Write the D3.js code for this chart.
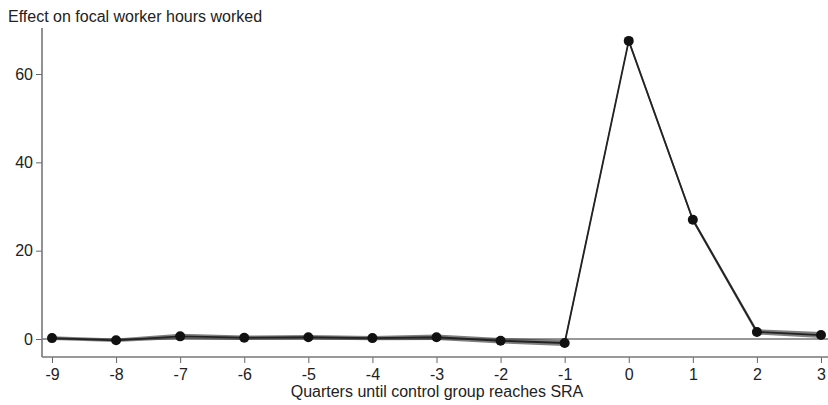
<!DOCTYPE html>
<html>
<head>
<meta charset="utf-8">
<script src="https://cdn.jsdelivr.net/npm/d3@7"></script>
<style>
  html, body { margin: 0; padding: 0; background: #fff; }
  svg { display: block; font-family: "Liberation Sans", Arial, sans-serif; }
</style>
</head>
<body>
<svg id="chart" width="828" height="405"></svg>
<script>
// Event-time coefficients: quarters relative to the control group reaching SRA
const quarters = [-9, -8, -7, -6, -5, -4, -3, -2, -1, 0, 1, 2, 3];
const estimate = [0.2, -0.3, 0.6, 0.3, 0.4, 0.2, 0.4, -0.4, -0.9, 67.5, 27.0, 1.6, 0.9];
const ciLower  = [-0.2, -0.7, 0.0, -0.2, -0.1, -0.3, -0.2, -1.0, -1.6, 67.0, 26.5, 1.0, 0.2];
const ciUpper  = [0.6, 0.1, 1.2, 0.8, 0.9, 0.7, 1.0, 0.2, -0.2, 68.0, 27.5, 2.2, 1.6];
const yTicks = [0, 20, 40, 60];

const svg = d3.select("#chart");
const margin = { left: 42, right: 0, top: 28, bottom: 48 };
const W = 828, H = 405;

const x = d3.scaleLinear().domain([-9, 3]).range([52, 821]);
const y = d3.scaleLinear().domain([0, 60]).range([339, 74]);

const rows = quarters.map((q, i) => ({ q, est: estimate[i], lo: ciLower[i], hi: ciUpper[i] }));
const fmt = d => String(d); // plain hyphen-minus for negatives

// confidence band
svg.append("path")
  .datum(rows)
  .attr("fill", "#555")
  .attr("fill-opacity", 0.75)
  .attr("d", d3.area().x(d => x(d.q)).y0(d => y(d.lo)).y1(d => y(d.hi)));

// zero reference line
svg.append("line")
  .attr("x1", margin.left).attr("x2", W)
  .attr("y1", y(0)).attr("y2", y(0))
  .attr("stroke", "#333").attr("stroke-width", 1.2);

// y axis
const yAxis = svg.append("g")
  .attr("transform", `translate(${margin.left},0)`)
  .call(d3.axisLeft(y).tickValues(yTicks).tickFormat(fmt).tickSize(6).tickPadding(3));
yAxis.select(".domain").remove();
yAxis.append("line")
  .attr("y1", margin.top).attr("y2", H - margin.bottom)
  .attr("stroke", "#777").attr("stroke-width", 1.6);

// x axis
const xAxis = svg.append("g")
  .attr("transform", `translate(0,${H - margin.bottom})`)
  .call(d3.axisBottom(x).tickValues(quarters).tickFormat(fmt).tickSize(6).tickPadding(6));
xAxis.select(".domain").remove();
xAxis.append("line")
  .attr("x1", margin.left).attr("x2", W)
  .attr("stroke", "#777").attr("stroke-width", 1.6);

svg.selectAll(".tick line").attr("stroke", "#666");
svg.selectAll(".tick text").attr("fill", "#222").style("font-size", "16px")
  .style("font-family", "'Liberation Sans', Arial, sans-serif");

// estimate line and markers
svg.append("path")
  .datum(rows)
  .attr("fill", "none")
  .attr("stroke", "#222")
  .attr("stroke-width", 1.8)
  .attr("d", d3.line().x(d => x(d.q)).y(d => y(d.est)));

svg.append("g").selectAll("circle")
  .data(rows)
  .join("circle")
  .attr("cx", d => x(d.q))
  .attr("cy", d => y(d.est))
  .attr("r", 5)
  .attr("fill", "#111");

// titles
svg.append("text")
  .attr("x", 8).attr("y", 22)
  .attr("fill", "#222")
  .style("font-size", "16px")
  .text("Effect on focal worker hours worked");

svg.append("text")
  .attr("x", 437).attr("y", 397)
  .attr("text-anchor", "middle")
  .attr("fill", "#222")
  .style("font-size", "16px")
  .text("Quarters until control group reaches SRA");
</script>
</body>
</html>
